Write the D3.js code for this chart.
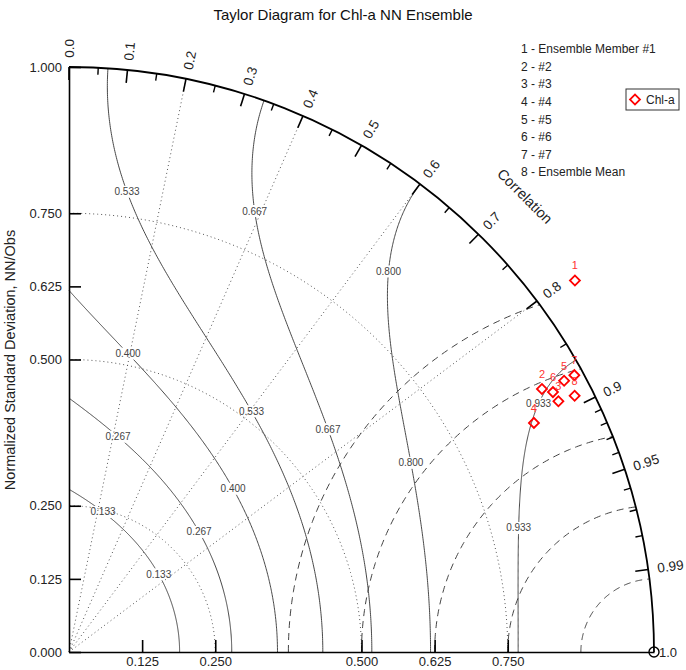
<!DOCTYPE html>
<html>
<head>
<meta charset="utf-8">
<script src="https://cdn.jsdelivr.net/npm/d3@7"></script>
<style>
  body { margin: 0; background: #fff; }
  svg { font-family: 'Liberation Sans', Arial, sans-serif; }
</style>
</head>
<body>
<svg id="chart" width="686" height="670"></svg>
<script>
// case values
const members = ['1', '2', '3', '4', '5', '6', '7', '8']
const memberNames = ['Ensemble Member #1', '#2', '#3', '#4', '#5', '#6', '#7', 'Ensemble Mean']
const stdRatio = [1.073, 0.925, 0.94, 0.886, 0.965, 0.939, 0.985, 0.969]
const correlation = [0.806, 0.874, 0.89, 0.897, 0.877, 0.881, 0.877, 0.892]
const seriesName = 'Chl-a'

// axes and grid
const corrLabels = ['0.0', '0.1', '0.2', '0.3', '0.4', '0.5', '0.6', '0.7', '0.8', '0.9', '0.95', '0.99']
const corrMinor = [0.05, 0.15, 0.25, 0.35, 0.45, 0.55, 0.65, 0.75, 0.85, 0.91, 0.92, 0.93, 0.94, 0.96, 0.97, 0.98]
const xTicks = [0.125, 0.25, 0.5, 0.625, 0.75]
const yTicks = [0, 0.125, 0.25, 0.5, 0.625, 0.75, 1]
const corrRays = [0.2, 0.4, 0.6, 0.8]
const stdArcs = [0.25, 0.5, 0.75]
const rmsArcs = [0.125, 0.25, 0.375, 0.5, 0.625]

// skill score contours and where their labels sit (as correlation)
const skillLevels = [0.1333, 0.2667, 0.4, 0.5333, 0.6667, 0.8, 0.9333]
const skillLabelCorr = [[0.236, 0.756], [0.222, 0.735], [0.194, 0.709], [0.125, 0.604], [0.388, 0.758], [0.643, 0.875], [0.884, 0.964]]

const svg = d3.select('#chart')
const x = d3.scaleLinear().domain([0, 1]).range([69, 654])
const y = d3.scaleLinear().domain([0, 1]).range([652, 67])

const pt = (s, c) => [x(s * c), y(s * Math.sqrt(Math.max(0, 1 - c * c)))]
const line = d3.line()
const lowerRoot = (k) => (k - Math.sqrt(Math.max(0, k * k - 4))) / 2

const skillCurve = (S) => {
  const sBottom = lowerRoot(2 / Math.sqrt(S))
  const sEnd = 2 * S - 1 >= 0 ? 1 : lowerRoot(Math.sqrt(2 / S))
  return d3.range(301).map((i) => {
    const t = i / 300
    const s = sBottom + (sEnd - sBottom) * t * t
    const c = Math.max(0, Math.min(1, (S * Math.pow(s + 1 / s, 2)) / 2 - 1))
    return pt(s, c)
  })
}

// skill contours
const contourLayer = svg.append('g')
contourLayer
  .selectAll('path')
  .data(skillLevels)
  .enter()
  .append('path')
  .attr('d', (d) => line(skillCurve(d)))
  .attr('fill', 'none')
  .attr('stroke', '#333')
  .attr('stroke-width', 0.9)

const labelData = []
skillLevels.forEach((S, i) => {
  skillLabelCorr[i].forEach((c) => {
    const s = lowerRoot(Math.sqrt((2 * (1 + c)) / S))
    const p = pt(s, c)
    labelData.push({ x: p[0], y: p[1], text: d3.format('.3f')(S) })
  })
})
const labels = contourLayer
  .selectAll('.skill-label')
  .data(labelData)
  .enter()
  .append('g')
  .attr('class', 'skill-label')
  .attr('transform', (d) => `translate(${d.x},${d.y})`)
labels
  .append('rect')
  .attr('x', -14)
  .attr('y', -6)
  .attr('width', 28)
  .attr('height', 12)
  .attr('fill', '#fff')
labels
  .append('text')
  .attr('text-anchor', 'middle')
  .attr('dy', '0.35em')
  .attr('font-size', 10)
  .attr('fill', '#444')
  .text((d) => d.text)

// dotted std arcs around the origin
const gridLayer = svg.append('g')
gridLayer
  .selectAll('.std-arc')
  .data(stdArcs)
  .enter()
  .append('path')
  .attr('class', 'std-arc')
  .attr('d', (s) => line(d3.range(121).map((i) => pt(s, Math.cos((i / 120) * Math.PI / 2)))))
  .attr('fill', 'none')
  .attr('stroke', '#555')
  .attr('stroke-width', 1)
  .attr('stroke-dasharray', '1,3')

// dotted correlation rays
gridLayer
  .selectAll('.ray')
  .data(corrRays)
  .enter()
  .append('path')
  .attr('class', 'ray')
  .attr('d', (c) => line([pt(0, c), pt(1, c)]))
  .attr('stroke', '#555')
  .attr('stroke-width', 1)
  .attr('stroke-dasharray', '1,3')

// dashed centred RMS arcs around the reference point
gridLayer
  .selectAll('.rms-arc')
  .data(rmsArcs)
  .enter()
  .append('path')
  .attr('class', 'rms-arc')
  .attr('d', (r) => {
    const phiMax = Math.acos(r / 2)
    return line(
      d3.range(121).map((i) => {
        const phi = (i / 120) * phiMax
        return [x(1 - r * Math.cos(phi)), y(r * Math.sin(phi))]
      })
    )
  })
  .attr('fill', 'none')
  .attr('stroke', '#444')
  .attr('stroke-width', 1)
  .attr('stroke-dasharray', '7,5')

// axes
const xAxis = d3.axisBottom(x).tickValues(xTicks).tickFormat(d3.format('.3f')).tickSizeInner(-12).tickSizeOuter(0).tickPadding(5)
const yAxis = d3.axisLeft(y).tickValues(yTicks).tickFormat(d3.format('.3f')).tickSizeInner(-12).tickSizeOuter(0).tickPadding(7)

const gx = svg.append('g').attr('transform', 'translate(0,652)').call(xAxis)
const gy = svg.append('g').attr('transform', 'translate(69,0)').call(yAxis)
;[gx, gy].forEach((g) => {
  g.select('.domain').attr('stroke', '#000').attr('stroke-width', 1.6)
  g.selectAll('.tick line').attr('stroke', '#000').attr('stroke-width', 1.6)
  g.selectAll('.tick text').attr('font-size', 13).attr('fill', '#222').attr('font-family', 'Liberation Sans, Arial, sans-serif')
})

// outer correlation arc
const arcPath = d3.path()
arcPath.arc(x(0), y(0), x(1) - x(0), -Math.PI / 2, 0)
svg.append('path').attr('d', arcPath.toString()).attr('fill', 'none').attr('stroke', '#000').attr('stroke-width', 1.8)

const tickLayer = svg.append('g')
tickLayer
  .selectAll('.major')
  .data(corrLabels.map(Number))
  .enter()
  .append('path')
  .attr('class', 'major')
  .attr('d', (c) => line([pt(1, c), pt(1 - 13 / 585, c)]))
  .attr('stroke', '#000')
  .attr('stroke-width', 1.6)
tickLayer
  .selectAll('.minor')
  .data(corrMinor)
  .enter()
  .append('path')
  .attr('class', 'minor')
  .attr('d', (c) => line([pt(1, c), pt(1 - 7 / 585, c)]))
  .attr('stroke', '#000')
  .attr('stroke-width', 1.4)
tickLayer
  .selectAll('.corr-label')
  .data(corrLabels)
  .enter()
  .append('text')
  .attr('class', 'corr-label')
  .attr('transform', (d) => {
    const p = pt(1.016, +d)
    const ang = (Math.acos(+d) * 180) / Math.PI
    return `translate(${p[0]},${p[1]}) rotate(${-ang})`
  })
  .attr('dy', '0.35em')
  .attr('font-size', 13.5)
  .attr('fill', '#222')
  .text((d) => d)

const cp = pt(1.102, Math.cos(Math.PI / 4))
svg
  .append('text')
  .attr('transform', `translate(${cp[0]},${cp[1]}) rotate(45)`)
  .attr('text-anchor', 'middle')
  .attr('dy', '0.35em')
  .attr('font-size', 14.5)
  .attr('fill', '#222')
  .text('Correlation')

// reference point
svg.append('circle').attr('cx', x(1)).attr('cy', y(0)).attr('r', 5).attr('fill', 'none').attr('stroke', '#000').attr('stroke-width', 1.4)
svg.append('text').attr('x', x(1) + 5).attr('y', y(0)).attr('dy', '0.35em').attr('font-size', 13).attr('fill', '#222').text('1.0')

// titles
svg.append('text').attr('x', 343).attr('y', 15).attr('dy', '0.35em').attr('text-anchor', 'middle').attr('font-size', 15).attr('fill', '#111').text('Taylor Diagram for Chl-a NN Ensemble')
svg
  .append('text')
  .attr('transform', 'translate(10,360) rotate(-90)')
  .attr('text-anchor', 'middle')
  .attr('dy', '0.35em')
  .attr('font-size', 14.5)
  .attr('fill', '#222')
  .text('Normalized Standard Deviation, NN/Obs')

// cases
const diamond = d3.symbol().type(d3.symbolSquare).size(50)
const pointData = members.map((m, i) => {
  const p = pt(stdRatio[i], correlation[i])
  return { x: p[0], y: p[1], name: m }
})
const pointLayer = svg.append('g')
pointLayer
  .selectAll('path')
  .data(pointData)
  .enter()
  .append('path')
  .attr('d', diamond)
  .attr('transform', (d) => `translate(${d.x},${d.y}) rotate(45)`)
  .attr('fill', 'none')
  .attr('stroke', 'red')
  .attr('stroke-width', 1.8)
pointLayer
  .selectAll('text')
  .data(pointData)
  .enter()
  .append('text')
  .attr('x', (d) => d.x)
  .attr('y', (d) => d.y - 15)
  .attr('dy', '0.35em')
  .attr('text-anchor', 'middle')
  .attr('font-size', 11)
  .attr('fill', '#f33')
  .text((d) => d.name)

// member list
svg
  .append('g')
  .selectAll('text')
  .data(members)
  .enter()
  .append('text')
  .attr('x', 521)
  .attr('y', (d, i) => 49 + i * 17.6)
  .attr('dy', '0.35em')
  .attr('font-size', 12)
  .attr('fill', '#222')
  .text((d, i) => `${d} - ${memberNames[i]}`)

// series legend
const lg = svg.append('g').attr('transform', 'translate(626,89)')
lg.append('rect').attr('width', 53).attr('height', 21).attr('fill', '#fff').attr('stroke', '#333').attr('stroke-width', 1)
lg.append('path').attr('d', diamond).attr('transform', 'translate(9,10.5) rotate(45)').attr('fill', 'none').attr('stroke', 'red').attr('stroke-width', 1.8)
lg.append('text').attr('x', 20).attr('y', 10.5).attr('dy', '0.35em').attr('font-size', 12).attr('fill', '#222').text(seriesName)
</script>
</body>
</html>
